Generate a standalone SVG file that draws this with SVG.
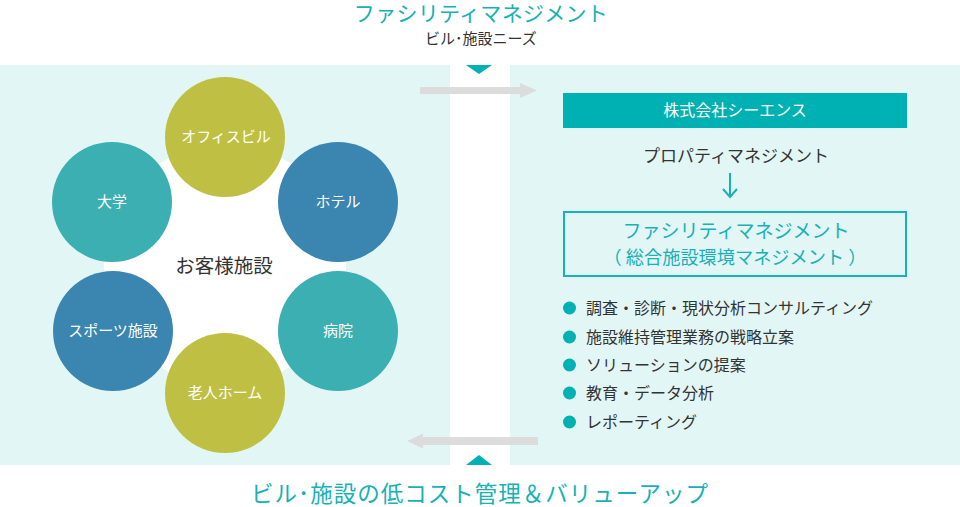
<svg xmlns="http://www.w3.org/2000/svg" width="960" height="507" viewBox="0 0 960 507">
<style>
text{font-family:"Noto Sans CJK JP","Noto Sans",sans-serif}
.dark{fill:#333}
.teal{fill:#17b1b6}
.wl{fill:#fff;font-size:15px;text-anchor:middle}
.li{fill:#333;font-size:16px}
.bul{fill:#00b1b4}
.olive{fill:#bfc043}
.blue{fill:#3a86b0}
.tc{fill:#3bafb1}
</style>
<rect width="960" height="507" fill="#fff"/>
<rect x="0" y="65" width="450" height="400" fill="#e3f6f6"/>
<rect x="510" y="65" width="450" height="400" fill="#e3f6f6"/>
<g id="top-title">
<text x="481" y="21" class="teal" font-size="21" letter-spacing="0.3" text-anchor="middle">ファシリティマネジメント</text>
<text x="481" y="44" class="dark" font-size="15" text-anchor="middle">ビル･施設ニーズ</text>
</g>
<g id="connectors">
<polygon points="466,65 492,65 479,74" fill="#00b1b4"/>
<polygon points="466,465 492,465 479,455" fill="#00b1b4"/>
<polygon points="420,87 520,87 520,83 537,90.5 520,98 520,94 420,94" fill="#dcdcdc"/>
<polygon points="538,437 423,437 423,433.5 407,441 423,448.5 423,445 538,445" fill="#dcdcdc"/>
<path d="M730,173 V197 M723,189 L730,197 L737,189" fill="none" stroke="#17b1b6" stroke-width="2"/>
</g>
<g id="hub">
<circle cx="225" cy="265" r="121" fill="#fff"/>
<text x="224" y="273" class="dark" font-size="19.5" text-anchor="middle">お客様施設</text>
</g>
<g id="office"><circle cx="225" cy="137" r="60" class="olive"/><text x="226" y="142" class="wl">オフィスビル</text></g>
<g id="hotel"><circle cx="338" cy="202" r="60" class="blue"/><text x="338" y="207" class="wl">ホテル</text></g>
<g id="hospital"><circle cx="338" cy="331" r="60" class="tc"/><text x="338" y="336" class="wl">病院</text></g>
<g id="elderly"><circle cx="225" cy="393" r="60" class="olive"/><text x="225" y="398" class="wl">老人ホーム</text></g>
<g id="sports"><circle cx="113" cy="331" r="60" class="blue"/><text x="113" y="336" class="wl">スポーツ施設</text></g>
<g id="university"><circle cx="112" cy="202" r="60" class="tc"/><text x="112" y="207" class="wl">大学</text></g>
<g id="company">
<rect x="563" y="93" width="344" height="35" fill="#00b1b4"/>
<text x="735" y="116" fill="#fff" font-size="16" text-anchor="middle">株式会社シーエンス</text>
</g>
<g id="property">
<text x="736" y="162" class="dark" font-size="17" text-anchor="middle">プロパティマネジメント</text>
</g>
<g id="fm-box">
<rect x="564" y="212" width="342" height="64" fill="none" stroke="#17b1b6" stroke-width="2"/>
<text x="736" y="238" class="teal" font-size="19" text-anchor="middle">ファシリティマネジメント</text>
<text x="735" y="264" class="teal" font-size="18.2" text-anchor="middle">（ 総合施設環境マネジメント ）</text>
</g>
<g id="services">
<circle cx="569.5" cy="308" r="6.5" class="bul"/><text x="586" y="313.5" class="li">調査・診断・現状分析コンサルティング</text>
<circle cx="569.5" cy="337" r="6.5" class="bul"/><text x="586" y="342.5" class="li">施設維持管理業務の戦略立案</text>
<circle cx="569.5" cy="365" r="6.5" class="bul"/><text x="586" y="370.5" class="li">ソリューションの提案</text>
<circle cx="569.5" cy="393" r="6.5" class="bul"/><text x="586" y="398.5" class="li">教育・データ分析</text>
<circle cx="569.5" cy="422" r="6.5" class="bul"/><text x="586" y="427.5" class="li">レポーティング</text>
</g>
<g id="bottom-title">
<text x="480" y="502" class="teal" font-size="22.5" letter-spacing="1" text-anchor="middle">ビル･施設の低コスト管理＆バリューアップ</text>
</g>
</svg>
